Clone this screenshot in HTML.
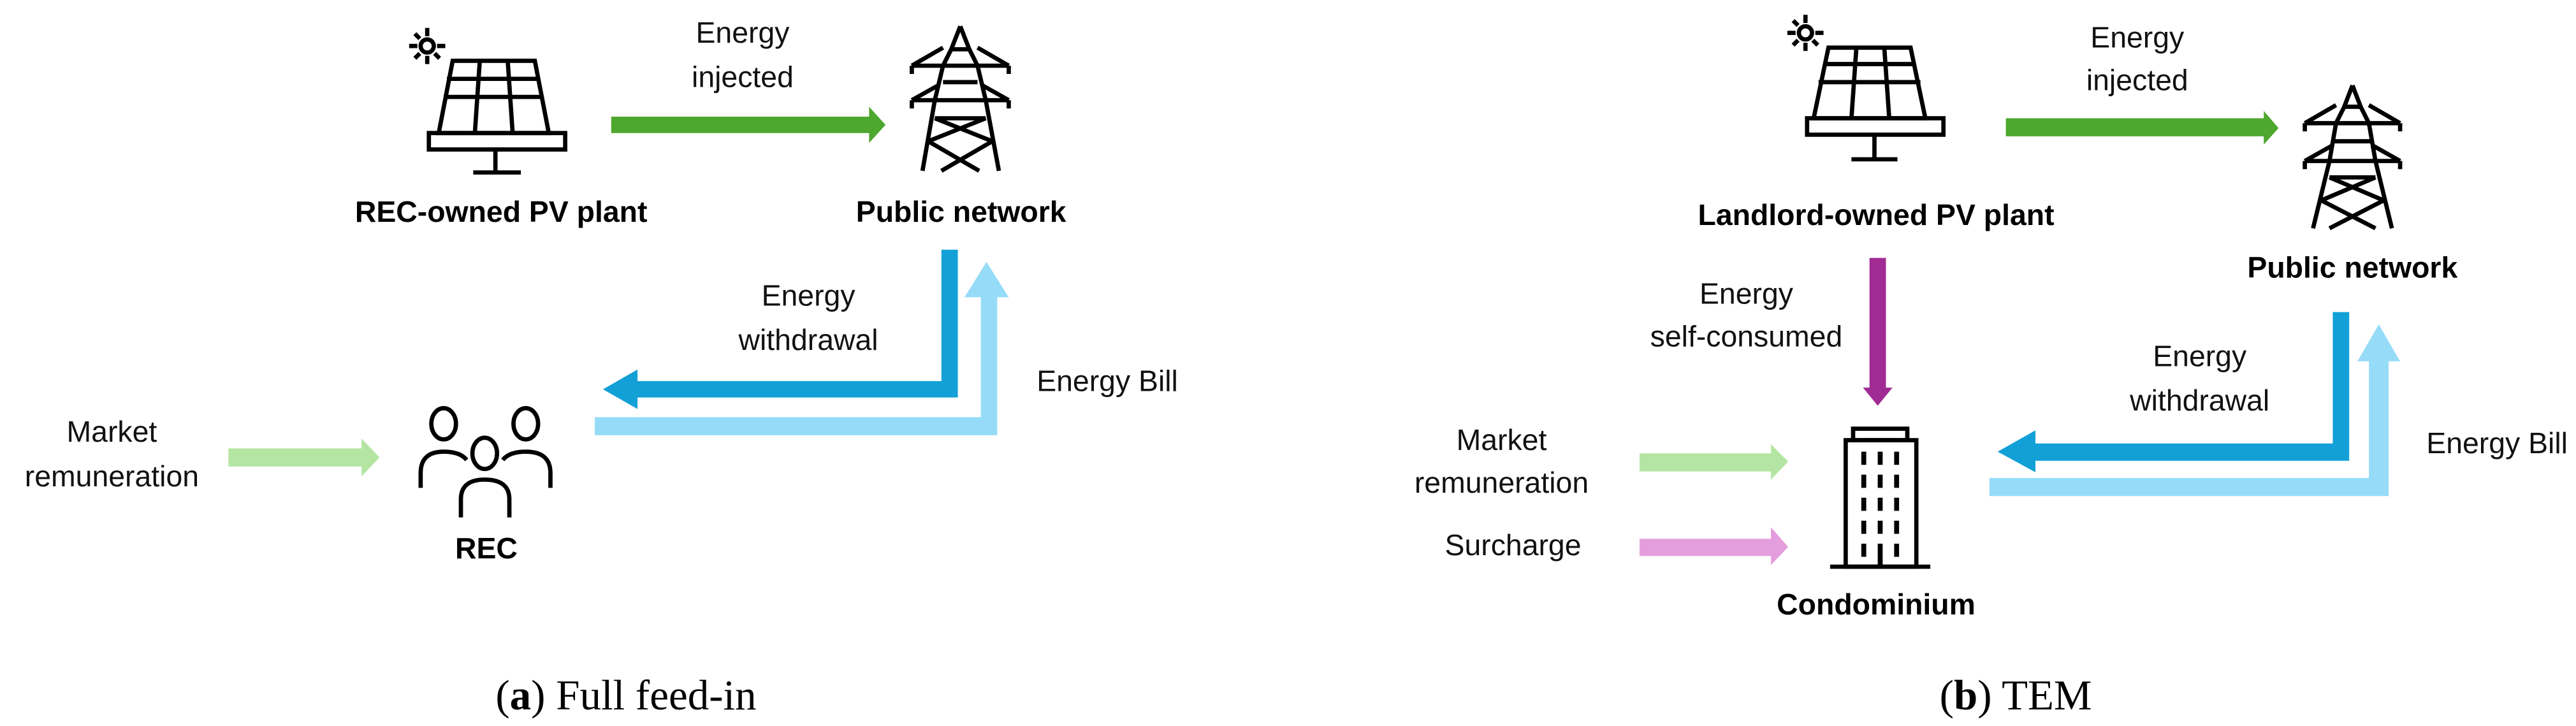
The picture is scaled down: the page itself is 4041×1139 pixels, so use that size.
<!DOCTYPE html>
<html><head><meta charset="utf-8"><style>
html,body{margin:0;padding:0;background:#fff;}
svg{display:block;}
text{font-family:"Liberation Sans",sans-serif;}
.l{font-size:18px;fill:#111;text-anchor:middle;}
.b{font-size:18px;font-weight:bold;fill:#000;text-anchor:middle;}
.c{font-family:"Liberation Serif",serif;font-size:26px;fill:#000;text-anchor:middle;}
.ic{fill:none;stroke:#000;stroke-width:2.6;stroke-linejoin:miter;}
</style></head><body>
<svg width="4041" height="1139" viewBox="0 0 1568 442" xmlns="http://www.w3.org/2000/svg">
<!-- LEFT PANEL -->
<!-- sun -->
<g class="ic" stroke-width="1.6">
<circle cx="260" cy="28" r="4"/>
<path d="M260 17v5M260 34v5M249 28h5M266 28h5M252.5 20.5l3 3M264.5 32.5l3 3M252.5 35.5l3-3"/>
</g>
<!-- solar panel -->
<g class="ic">
<path d="M275.5 37H325.5L334 81H267Z"/>
<path d="M270 59H330M272 48H328M292 37L289 81M309 37L312 81"/>
<rect x="261" y="81" width="83" height="10"/>
<path d="M301.5 91V105M288 105H317"/>
</g>
<!-- tower -->
<g class="ic" stroke-width="2.2">
<path d="M584.5 16L579 30L574 40M584.5 16L590 30L595 40"/>
<path d="M555 40H614M555 40V45M614 40V45M579 30H590"/>
<path d="M555 40L574 29M614 40L595 29"/>
<path d="M555 61H614M555 61V66M614 61V66M574 40L569 61M595 40L600 61M574 50H595"/>
<path d="M555 61L571 52M614 61L598 52"/>
<path d="M569 61L561.5 104M600 61L608 104M569 72L604 86M600 72L565 86M565 86L596 104M604 86L573 104M569 72H600"/>
</g>
<!-- people -->
<g class="ic" stroke-width="2.4">
<ellipse cx="270" cy="258" rx="7.5" ry="9.5"/>
<ellipse cx="320" cy="258" rx="7.5" ry="9.5"/>
<ellipse cx="295" cy="276" rx="7.5" ry="9.5"/>
<path d="M256 297V288Q256 275 270 275Q280 275 284 280"/>
<path d="M335 297V288Q335 275 320 275Q310 275 306 280"/>
<path d="M280.5 315V304Q280.5 292 295 292Q310 292 310 304V315"/>
</g>
<!-- arrows left -->
<path d="M372 71H529V65L539 76L529 87V81H372Z" fill="#4ea72e"/>
<path d="M139 273H220V267L231 278.5L220 290V284H139Z" fill="#b4e5a2"/>
<path d="M573 152H583V242H388V249L367 237L388 225V232H573Z" fill="#12a0d7"/>
<path d="M362 254H597V181H587L600.5 159.5L614 181H607V265H362Z" fill="#96dcf8"/>
<!-- labels left -->
<text class="l" x="452" y="26">Energy</text>
<text class="l" x="452" y="53">injected</text>
<text class="b" x="305" y="135">REC-owned PV plant</text>
<text class="b" x="585" y="135">Public network</text>
<text class="l" x="492" y="186">Energy</text>
<text class="l" x="492" y="213">withdrawal</text>
<text class="l" x="674" y="238">Energy Bill</text>
<text class="l" x="68" y="269">Market</text>
<text class="l" x="68" y="296">remuneration</text>
<text class="b" x="296" y="340">REC</text>
<text class="c" x="381" y="432">(<tspan font-weight="bold">a</tspan>) Full feed-in</text>

<!-- RIGHT PANEL -->
<g class="ic" stroke-width="1.6">
<circle cx="1099" cy="20" r="4"/>
<path d="M1099 9v5M1099 26v5M1088 20h5M1105 20h5M1091.5 12.5l3 3M1103.5 24.5l3 3M1091.5 27.5l3-3"/>
</g>
<g class="ic">
<path d="M1113 29H1163L1172 72H1104Z"/>
<path d="M1107 50H1169M1110 39H1166M1130 29L1127 72M1147 29L1150 72"/>
<rect x="1100" y="72" width="83" height="10"/>
<path d="M1141 82V97M1127 97H1155"/>
</g>
<g class="ic" stroke-width="2.2">
<path d="M1432 52L1427 65L1422 75M1432 52L1437 65L1442 75"/>
<path d="M1403 75H1461M1403 75V80M1461 75V80M1427 65H1437"/>
<path d="M1403 75L1422 64M1461 75L1442 64"/>
<path d="M1403 98H1461M1403 98V103M1461 98V103M1422 75L1418 98M1442 75L1446 98M1420 86H1444"/>
<path d="M1403 98L1419 89M1461 98L1445 89"/>
<path d="M1418 98L1408 139M1446 98L1456 139M1418 108L1451 122M1446 108L1413 122M1413 122L1446 139M1451 122L1418 139M1418 108H1446"/>
</g>
<!-- building -->
<g class="ic" stroke-width="2.4">
<rect x="1128" y="261" width="33" height="7"/>
<rect x="1123.5" y="268" width="43" height="77"/>
<path d="M1114 345H1175"/>
</g>
<g fill="#000">
<rect x="1133" y="275" width="3" height="8"/><rect x="1143" y="275" width="3" height="8"/><rect x="1153" y="275" width="3" height="8"/>
<rect x="1133" y="289" width="3" height="8"/><rect x="1143" y="289" width="3" height="8"/><rect x="1153" y="289" width="3" height="8"/>
<rect x="1133" y="303" width="3" height="8"/><rect x="1143" y="303" width="3" height="8"/><rect x="1153" y="303" width="3" height="8"/>
<rect x="1133" y="317" width="3" height="8"/><rect x="1143" y="317" width="3" height="8"/><rect x="1153" y="317" width="3" height="8"/>
<rect x="1133" y="331" width="3" height="8"/><rect x="1143" y="331" width="3" height="14"/><rect x="1153" y="331" width="3" height="8"/>
</g>
<!-- arrows right -->
<path d="M1221 72H1378V67.5L1387 78L1378 88V83H1221Z" fill="#4ea72e"/>
<path d="M1138 157H1148V236H1152L1143 247L1134 236H1138Z" fill="#a02b93"/>
<path d="M998 276H1078V270.5L1088.5 281L1078 292V287H998Z" fill="#b4e5a2"/>
<path d="M998 328H1078V321L1088.5 333L1078 344V338.5H998Z" fill="#e59edd"/>
<path d="M1420 190H1430V280.5H1239V287.5L1216 275L1239 262V270H1420Z" fill="#12a0d7"/>
<path d="M1211 291H1442V220H1435L1448 197.5L1461 220H1454V302H1211Z" fill="#96dcf8"/>
<!-- labels right -->
<text class="l" x="1301" y="29">Energy</text>
<text class="l" x="1301" y="55">injected</text>
<text class="b" x="1142" y="137">Landlord-owned PV plant</text>
<text class="b" x="1432" y="169">Public network</text>
<text class="l" x="1063" y="185">Energy</text>
<text class="l" x="1063" y="211">self-consumed</text>
<text class="l" x="1339" y="223">Energy</text>
<text class="l" x="1339" y="250">withdrawal</text>
<text class="l" x="1520" y="276">Energy Bill</text>
<text class="l" x="914" y="274">Market</text>
<text class="l" x="914" y="300">remuneration</text>
<text class="l" x="921" y="338">Surcharge</text>
<text class="b" x="1142" y="374">Condominium</text>
<text class="c" x="1227" y="432">(<tspan font-weight="bold">b</tspan>) TEM</text>
</svg>
</body></html>
